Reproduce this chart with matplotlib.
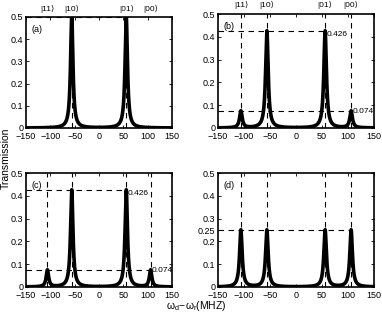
import numpy as np
import matplotlib
matplotlib.use('Agg')
import matplotlib.pyplot as plt

plt.rcParams['font.family'] = ['Liberation Sans', 'DejaVu Sans']
plt.rcParams['font.size'] = 6.5
plt.rcParams['mathtext.fontset'] = 'custom'
plt.rcParams['mathtext.rm'] = 'Liberation Sans'
plt.rcParams['mathtext.it'] = 'Liberation Sans'

# peak positions (MHz) of |11>, |10>, |01>, |00>
kets = ['|11⟩', '|10⟩', '|01⟩', '|00⟩']
centers = [-106, -56, 56, 106]
width = 3.0  # half width (MHz)

# peak heights per panel
heights_a = [0, 0.5, 0.5, 0]
heights_b = [0.074, 0.426, 0.426, 0.074]
heights_c = [0.074, 0.426, 0.426, 0.074]
heights_d = [0.25, 0.25, 0.25, 0.25]

x = np.linspace(-150, 150, 6001)


def spectrum(heights):
    y = np.zeros_like(x)
    for c, h in zip(centers, heights):
        y += h * width**2 / ((x - c)**2 + width**2)
    return y


fig = plt.figure(figsize=(3.82, 3.17), dpi=100)
W, H = 382, 317


def make_ax(l, t, r, b):
    return fig.add_axes([l / W, 1 - b / H, (r - l) / W, (b - t) / H])


ax_a = make_ax(26, 17, 172, 128)
ax_b = make_ax(218, 14, 374, 128)
ax_c = make_ax(26, 173, 172, 287)
ax_d = make_ax(218, 173, 374, 287)

dash = dict(color='k', lw=0.8, ls=(0, (5, 4)))

panels = [(ax_a, heights_a, '(a)'), (ax_b, heights_b, '(b)'),
          (ax_c, heights_c, '(c)'), (ax_d, heights_d, '(d)')]

for ax, hs, lab in panels:
    ax.plot(x, spectrum(hs), color='k', lw=2.6, solid_joinstyle='round')
    ax.set_xlim(-150, 150)
    ax.set_ylim(0, 0.5)
    ax.set_xticks([-150, -100, -50, 0, 50, 100, 150])
    ax.set_xticklabels(['\u2212150', '\u2212100', '\u221250', '0', '50', '100', '150'])
    ax.tick_params(direction='in', length=2.5, width=0.6, top=True, right=True, labelsize=6.5)
    ax.tick_params(axis='x', pad=3)
    ax.tick_params(axis='y', pad=2)
    for s in ax.spines.values():
        s.set_linewidth(1.2)
    ax.text(0.035, 0.93, lab, transform=ax.transAxes, ha='left', va='top', fontsize=6.5)

for ax in (ax_a, ax_b, ax_c):
    ax.set_yticks([0, 0.1, 0.2, 0.3, 0.4, 0.5])
    ax.set_yticklabels(['0', '0.1', '0.2', '0.3', '0.4', '0.5'])
ax_d.set_yticks([0, 0.1, 0.2, 0.25, 0.3, 0.4, 0.5])
ax_d.set_yticklabels(['0', '0.1', '0.2', '0.25', '0.3', '0.4', '0.5'])

# panel (a) guide lines
ax_a.plot([-150, centers[2]], [0.5, 0.5], **dash)
for c in centers[1:3]:
    ax_a.plot([c, c], [0, 0.5], **dash)

# panels (b), (c)
for ax in (ax_b, ax_c):
    for c in centers:
        ax.plot([c, c], [0, 0.5], **dash)
    ax.plot([-150, centers[2]], [heights_b[2], heights_b[2]], **dash)
    ax.plot([-150, centers[3]], [heights_b[3], heights_b[3]], **dash)
    ax.text(centers[2] + 2, heights_b[2], '%.3f' % heights_b[2], ha='left', va='top', fontsize=6)
    ax.text(centers[3] + 2, heights_b[3], '%.3f' % heights_b[3], ha='left', va='center', fontsize=6)

# panel (d)
for c in centers:
    ax_d.plot([c, c], [0, 0.5], **dash)
ax_d.plot([-150, centers[3]], [0.25, 0.25], **dash)

# state labels above top panels
for ax in (ax_a, ax_b):
    for k, c in zip(kets, centers):
        ax.text(c, 0.52, k, ha='center', va='bottom', fontsize=6, clip_on=False)

fig.text(0.016, 0.5, 'Transmission', rotation=90, ha='center', va='center', fontsize=7.5)
fig.text(0.513, 0.035, r'$\omega_d\!-\!\omega_r$(MHZ)', ha='center', va='center', fontsize=7.5)

fig.savefig('out.png', dpi=100)
